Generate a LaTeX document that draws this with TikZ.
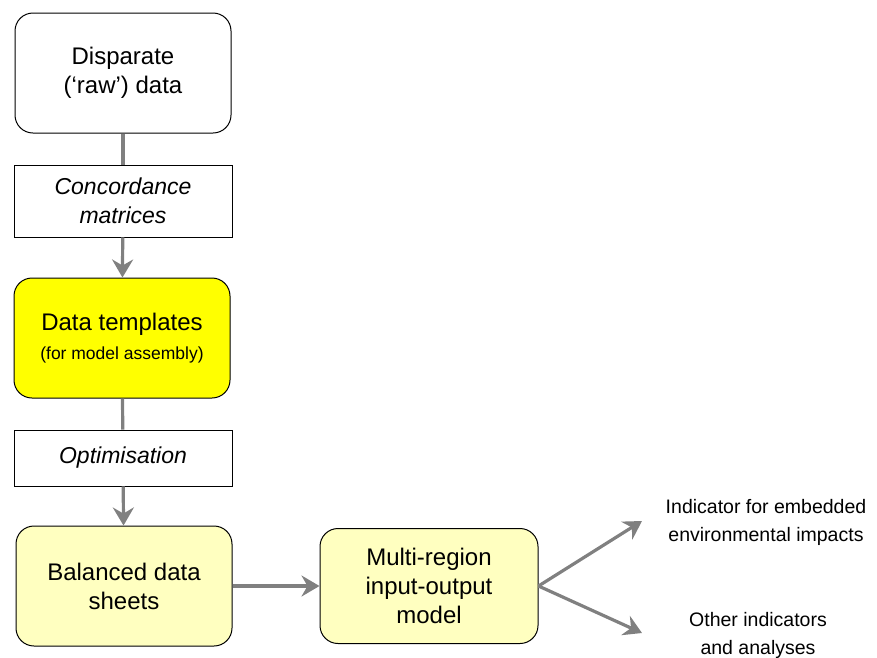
\documentclass[tikz,border=0pt]{standalone}
\usepackage{fontspec}
\setmainfont{Liberation Sans}
\usetikzlibrary{arrows.meta}
\definecolor{paleyellow}{RGB}{255,255,192}
\definecolor{fullyellow}{RGB}{255,255,0}
\definecolor{linkgray}{RGB}{128,128,128}
\tikzset{
  stage/.style={draw, rounded corners=18pt, line width=1pt, minimum width=216pt,
    minimum height=120pt, align=center, font=\fontsize{24}{29}\selectfont},
  tool/.style={draw, line width=0.8pt, minimum width=218pt, align=center,
    font=\itshape\fontsize{23}{29}\selectfont},
  note/.style={align=center, font=\fontsize{19.5}{28}\selectfont},
  link/.style={draw=linkgray, line width=3.2pt},
  flow/.style={link, -{Stealth[length=18pt,width=21pt,inset=6pt]}},
}

\begin{document}
\begin{tikzpicture}[x=1pt, y=-1pt]
\useasboundingbox (0,0) rectangle (877,657);

% left column
\node[stage] (raw) at (123,73) {Disparate\\(‘raw’) data};
\node[tool, minimum height=72pt] (conc) at (123,201) {Concordance\\matrices};
\node[stage, fill=fullyellow] (tmpl) at (122,338) {Data templates\\{\fontsize{17.5}{22}\selectfont (for model assembly)}};
\node[tool, minimum height=56pt] (opt) at (123,458) {Optimisation};
\node[stage, fill=paleyellow] (bal) at (124,586) {Balanced data\\sheets};

% model and outputs
\node[stage, fill=paleyellow, minimum width=218pt, minimum height=115pt] (mrio) at (429,586) {Multi-region\\input-output\\model};
\node[note] (env) at (766,522) {Indicator for embedded\\environmental impacts};
\node[note] (other) at (758,635) {Other indicators\\and analyses};
\coordinate (envtip) at (642,521);
\coordinate (othtip) at (642,633);

\draw[link] (raw) -- (conc);
\draw[flow] (conc) -- (tmpl);
\draw[link] (tmpl) -- (opt);
\draw[flow] (opt) -- (bal);
\draw[flow] (bal) -- (mrio);
\draw[flow] (mrio.east) -- (envtip);
\draw[flow] (mrio.east) -- (othtip);
\end{tikzpicture}
\end{document}
